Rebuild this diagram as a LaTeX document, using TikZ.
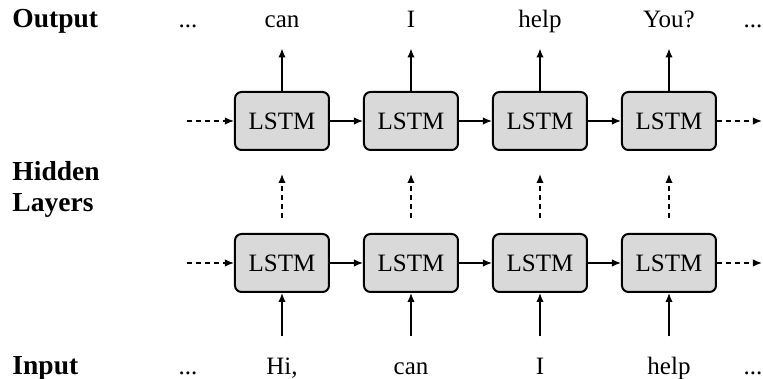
\documentclass[tikz,border=0pt]{standalone}
\usepackage{fontspec}
\setmainfont{Liberation Serif}
\usetikzlibrary{arrows.meta}
\definecolor{cell-fill}{HTML}{D9D9D9}

\begin{document}
\begin{tikzpicture}[x=0.4pt, y=-0.4pt, >={Latex[length=3.6pt, width=3pt]},
        every node/.style={font=\fontsize{10}{12}\selectfont},
        cell/.style={draw, thick, fill=cell-fill, rounded corners=2.6pt,
            minimum width=37.6pt, minimum height=23.2pt, inner sep=0pt},
        word/.style={anchor=base, inner sep=0pt, text height=8pt, text depth=2.5pt},
        side/.style={anchor=base west, inner sep=0pt, align=left,
            font=\fontsize{11}{12.4}\selectfont\bfseries},
        dashlink/.style={dash pattern=on 2pt off 1.6pt}]
      \useasboundingbox (0,0) rectangle (763,379);
      % row labels
      \node[side] (OUTLBL) at (12,28) {Output};
      \node[side, anchor=west] (HIDLBL) at (12,189) {Hidden\\Layers};
      \node[side] (INLBL) at (12,375) {Input};
      % output words
      \node[word] (ODOTL) at (188,28) {...};
      \node[word] (OUT1) at (282,28) {can};
      \node[word] (OUT2) at (411,28) {I};
      \node[word] (OUT3) at (540,28) {help};
      \node[word] (OUT4) at (669,28) {You?};
      \node[word] (ODOTR) at (753,28) {...};
      % input words
      \node[word] (IDOTL) at (188,375) {...};
      \node[word] (IN1) at (282,375) {Hi,};
      \node[word] (IN2) at (411,375) {can};
      \node[word] (IN3) at (540,375) {I};
      \node[word] (IN4) at (669,375) {help};
      \node[word] (IDOTR) at (753,375) {...};
      % upper LSTM layer
      \node[cell] (H1) at (282,121) {LSTM};
      \node[cell] (H2) at (411,121) {LSTM};
      \node[cell] (H3) at (540,121) {LSTM};
      \node[cell] (H4) at (669,121) {LSTM};
      % lower LSTM layer
      \node[cell] (L1) at (282,263) {LSTM};
      \node[cell] (L2) at (411,263) {LSTM};
      \node[cell] (L3) at (540,263) {LSTM};
      \node[cell] (L4) at (669,263) {LSTM};
      \coordinate (HIN) at (187,121);
      \coordinate (HOUT) at (762,121);
      \coordinate (LIN) at (187,263);
      \coordinate (LOUT) at (762,263);
      % recurrent connections
      \draw[->, semithick, dashlink] (HIN) -- (H1);
      \draw[->, semithick] (H1) -- (H2);
      \draw[->, semithick] (H2) -- (H3);
      \draw[->, semithick] (H3) -- (H4);
      \draw[->, semithick, dashlink] (H4) -- (HOUT);
      \draw[->, semithick, dashlink] (LIN) -- (L1);
      \draw[->, semithick] (L1) -- (L2);
      \draw[->, semithick] (L2) -- (L3);
      \draw[->, semithick] (L3) -- (L4);
      \draw[->, semithick, dashlink] (L4) -- (LOUT);
      % between layers
      \draw[->, semithick, dashlink, shorten <=6pt, shorten >=9.2pt] (L1) -- (H1);
      \draw[->, semithick, dashlink, shorten <=6pt, shorten >=9.2pt] (L2) -- (H2);
      \draw[->, semithick, dashlink, shorten <=6pt, shorten >=9.2pt] (L3) -- (H3);
      \draw[->, semithick, dashlink, shorten <=6pt, shorten >=9.2pt] (L4) -- (H4);
      % inputs and outputs
      \draw[->, semithick, shorten <=7.2pt] (IN1) -- (L1);
      \draw[->, semithick, shorten <=7.2pt] (IN2) -- (L2);
      \draw[->, semithick, shorten <=7.2pt] (IN3) -- (L3);
      \draw[->, semithick, shorten <=7.2pt] (IN4) -- (L4);
      \draw[->, semithick, shorten >=5.5pt] (H1) -- (OUT1);
      \draw[->, semithick, shorten >=5.5pt] (H2) -- (OUT2);
      \draw[->, semithick, shorten >=5.5pt] (H3) -- (OUT3);
      \draw[->, semithick, shorten >=5.5pt] (H4) -- (OUT4);
    \end{tikzpicture}
\end{document}
